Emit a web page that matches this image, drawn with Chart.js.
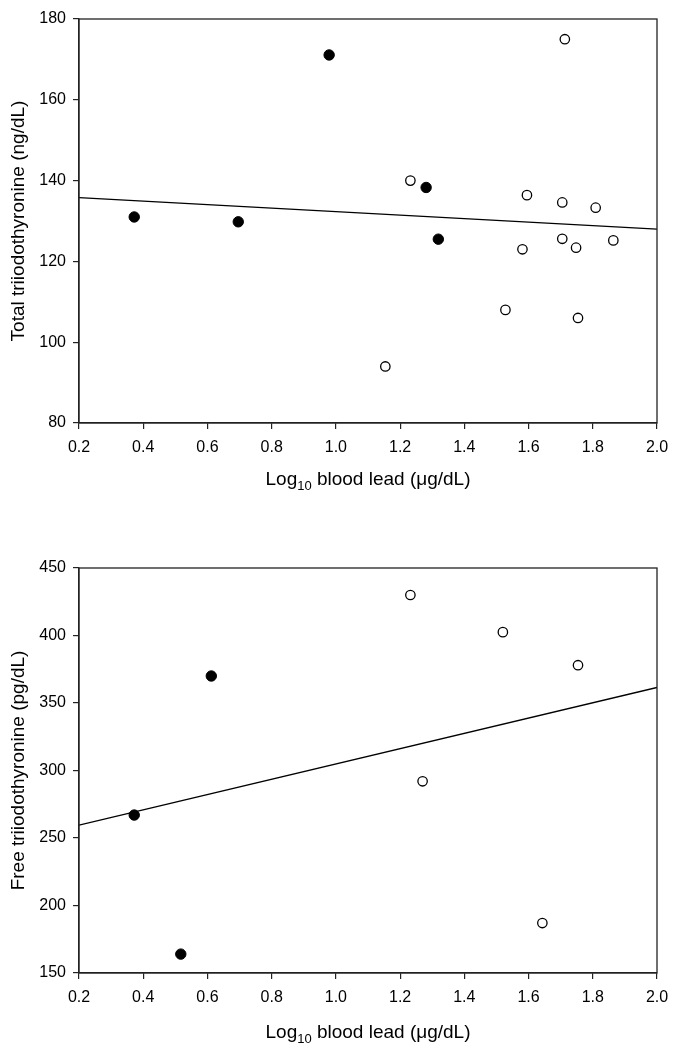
<!DOCTYPE html>
<html lang="en">
<head>
    <meta charset="UTF-8">
    <title>Triiodothyronine vs blood lead</title>
    <script src="https://cdn.jsdelivr.net/npm/chart.js"></script>
    <style>
        body {
            margin: 0;
            background: #fff;
            font-family: 'Liberation Sans', Arial, sans-serif;
        }
        .panel {
            position: absolute;
            left: 0;
        }
        .xtitle {
            position: absolute;
            left: 0;
            width: 736px; /* centred on the plot area */
            text-align: center;
            font-size: 19px;
            line-height: 20px;
            color: #000;
        }
        .xtitle sub {
            font-size: 13px;
            vertical-align: -5px;
            line-height: 0;
        }
    </style>
</head>
<body>

<div class="panel" style="top:0"><canvas id="totalChart" width="673" height="520"></canvas></div>
<div class="xtitle" style="top:469px">Log<sub>10</sub> blood lead (&mu;g/dL)</div>

<div class="panel" style="top:520px"><canvas id="freeChart" width="673" height="530"></canvas></div>
<div class="xtitle" style="top:1022px">Log<sub>10</sub> blood lead (&mu;g/dL)</div>

<script>
    // --- data ---
    // top panel: total T3
    const totalLeadFilled = [0.372, 0.696, 0.979, 1.281, 1.319];
    const totalT3Filled   = [131.0, 129.8, 171.1, 138.3, 125.5];
    const totalLeadOpen = [1.154, 1.232, 1.528, 1.581, 1.595, 1.705, 1.705, 1.713, 1.748, 1.754, 1.809, 1.864];
    const totalT3Open   = [94.0, 140.0, 108.0, 123.0, 136.4, 134.6, 125.6, 175.0, 123.4, 106.0, 133.3, 125.2];
    const totalFitX = [0.2, 2.0];
    const totalFitY = [135.8, 128.0];
    const totalYTicks = [80, 180, 20];   // min, max, step

    // bottom panel: free T3
    const freeLeadFilled = [0.372, 0.517, 0.612];
    const freeT3Filled   = [267, 164, 370];
    const freeLeadOpen = [1.232, 1.270, 1.520, 1.643, 1.754];
    const freeT3Open   = [430, 292, 402.5, 187, 378];
    const freeFitX = [0.2, 2.0];
    const freeFitY = [259.5, 361.5];
    const freeYTicks = [150, 450, 50];

    const xTicks = [0.2, 2.0, 0.2];

    const axisColor = '#222';
    const tickFont = { family: "'Liberation Sans', Arial, sans-serif", size: 16 };

    function pairs(xs, ys) {
        return xs.map((x, i) => ({ x: x, y: ys[i] }));
    }

    // box round the plot area (top + right edges)
    const frame = {
        id: 'frame',
        afterDatasetsDraw(chart) {
            const a = chart.chartArea;
            const c = chart.ctx;
            c.save();
            c.strokeStyle = axisColor;
            c.lineWidth = 1.3;
            c.strokeRect(a.left, a.top, a.right - a.left, a.bottom - a.top);
            c.restore();
        }
    };

    function makeChart(id, cfg) {
        return new Chart(document.getElementById(id), {
            type: 'scatter',
            data: {
                datasets: [
                    {
                        data: pairs(cfg.filledX, cfg.filledY),
                        pointRadius: 5.2,
                        pointBackgroundColor: '#000',
                        pointBorderColor: '#000',
                        pointBorderWidth: 1
                    },
                    {
                        data: pairs(cfg.openX, cfg.openY),
                        pointRadius: 4.7,
                        pointBackgroundColor: '#fff',
                        pointBorderColor: '#000',
                        pointBorderWidth: 1.3
                    },
                    {
                        data: pairs(cfg.fitX, cfg.fitY),
                        showLine: true,
                        pointRadius: 0,
                        borderColor: '#000',
                        borderWidth: 1.3
                    }
                ]
            },
            options: {
                responsive: false,
                animation: false,
                events: [],
                layout: { padding: { top: cfg.padTop, right: 16, left: 0, bottom: 0 } },
                plugins: { legend: { display: false }, tooltip: { enabled: false } },
                scales: {
                    x: {
                        min: xTicks[0], max: xTicks[1],
                        afterFit: s => {
                            s.height = cfg.xHeight;
                            s.paddingLeft = 0;
                            s.paddingRight = 0;
                        },
                        ticks: {
                            stepSize: xTicks[2],
                            padding: 9,
                            color: '#000',
                            font: tickFont,
                            maxRotation: 0,
                            callback: v => v.toFixed(1)
                        },
                        grid: { drawOnChartArea: false, tickLength: 6, color: axisColor, lineWidth: 1.2 },
                        border: { color: axisColor, width: 1.3 }
                    },
                    y: {
                        min: cfg.yTicks[0], max: cfg.yTicks[1],
                        afterFit: s => { s.width = 79; },
                        ticks: {
                            stepSize: cfg.yTicks[2],
                            padding: 7,
                            color: '#000',
                            font: tickFont
                        },
                        grid: { drawOnChartArea: false, tickLength: 6, color: axisColor, lineWidth: 1.2 },
                        border: { color: axisColor, width: 1.3 },
                        title: {
                            display: true,
                            text: cfg.yTitle,
                            color: '#000',
                            padding: { top: 7, bottom: 0 },
                            font: { family: "'Liberation Sans', Arial, sans-serif", size: 19 }
                        }
                    }
                }
            },
            plugins: [frame]
        });
    }

    makeChart('totalChart', {
        filledX: totalLeadFilled, filledY: totalT3Filled,
        openX: totalLeadOpen, openY: totalT3Open,
        fitX: totalFitX, fitY: totalFitY,
        yTicks: totalYTicks,
        yTitle: 'Total triiodothyronine (ng/dL)',
        padTop: 19,
        xHeight: 97
    });

    makeChart('freeChart', {
        filledX: freeLeadFilled, filledY: freeT3Filled,
        openX: freeLeadOpen, openY: freeT3Open,
        fitX: freeFitX, fitY: freeFitY,
        yTicks: freeYTicks,
        yTitle: 'Free triiodothyronine (pg/dL)',
        padTop: 48,
        xHeight: 77
    });
</script>
</body>
</html>
